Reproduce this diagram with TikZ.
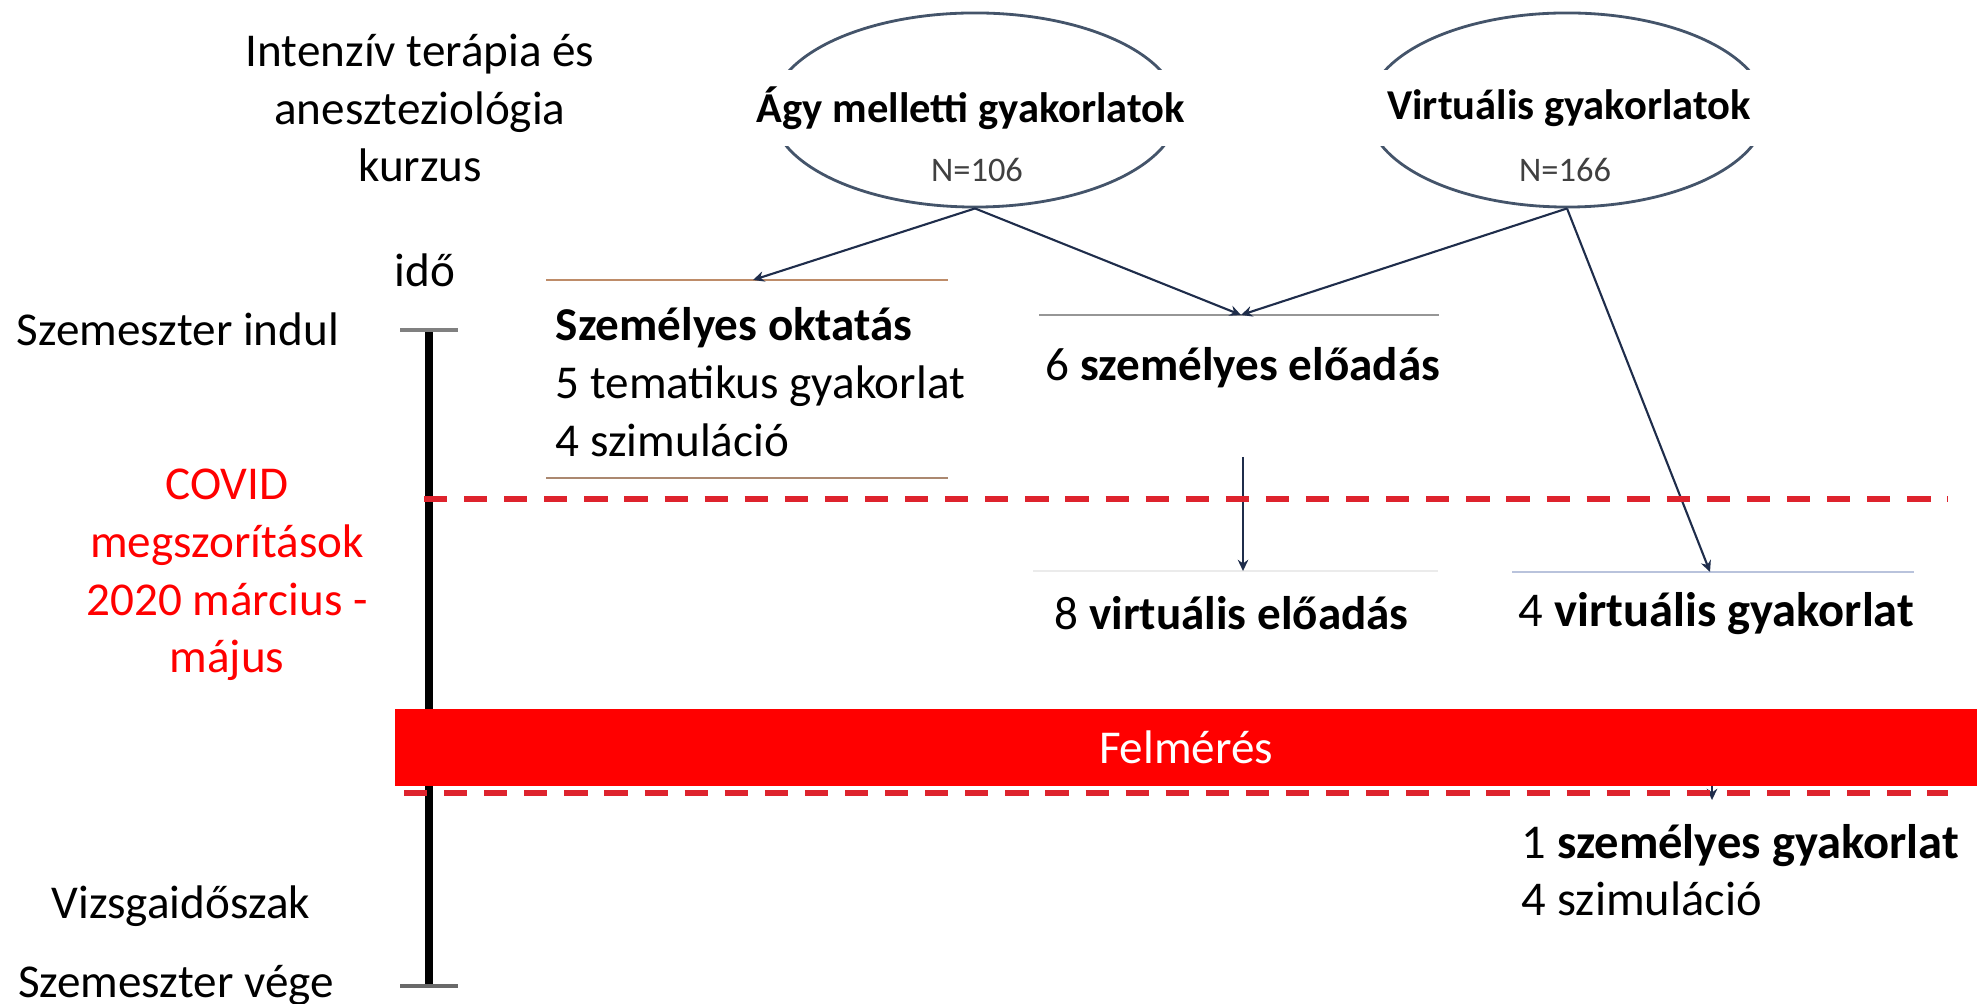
\documentclass[tikz,border=0pt]{standalone}
\usepackage[svgnames]{xcolor}
\usepackage{fontspec}
\setmainfont{Carlito}
\usetikzlibrary{arrows.meta, shapes.geometric}

\definecolor{EllBlue}{RGB}{68,84,106}
\definecolor{ArrBlue}{RGB}{31,45,75}
\definecolor{RuleBrown}{RGB}{190,140,105}
\definecolor{RuleGray}{RGB}{150,150,150}
\definecolor{RuleLight}{RGB}{185,195,220}
\definecolor{DashRed}{RGB}{222,35,45}

\tikzset{
  txt/.style={inner sep=0pt, font=\fontsize{13.4}{16.4}\selectfont},
  bigtxt/.style={inner sep=0pt, font=\fontsize{13.8}{16.4}\selectfont},
  ell/.style={ellipse, draw=EllBlue, line width=0.8pt, inner sep=0pt},
  elltitle/.style={fill=white, inner sep=0pt, minimum width=4.5cm, minimum height=0.75cm, font=\fontsize{12.1}{14}\selectfont\bfseries},
  count/.style={inner sep=0pt, text=black!75, font=\fontsize{9.8}{11}\selectfont},
  arr/.style={ArrBlue, line width=0.6pt, -{Stealth[length=3.2pt, width=3pt]}},
  covidline/.style={DashRed, line width=1.7pt, dash pattern=on 6.6pt off 4.8pt},
}

\begin{document}
\begin{tikzpicture}[x=0.01cm, y=-0.01cm]
    \useasboundingbox (0,0) rectangle (1977,1004);
    % left column
    \node[txt, align=center] (kurzus) at (420,108) {Intenzív terápia és\\aneszteziológia\\kurzus};
    \node[txt] (ido) at (425,270) {idő};
    \node[txt] (indul) at (178,329) {Szemeszter indul};
    \node[txt, align=center, text=red] (covid) at (227,575) {COVID\\megszorítások\\2020 március -\\május};
    \node[txt] (vizsga) at (181,906) {Vizsgaidőszak};
    \node[txt] (vege) at (176,985) {Szemeszter vége};
    % time axis
    \draw[line width=2pt] (429,330) -- (429,986);
    \draw[Gray, line width=1.1pt] (400,330) -- (458,330);
    \draw[DimGray, line width=1.1pt] (400,986) -- (458,986);
    % groups
    \node[ell, minimum width=4.06cm, minimum height=1.94cm] (agy) at (975,110) {};
    \node[elltitle] (agytitle) at (971,108) {Ágy melletti gyakorlatok};
    \node[count] (agyn) at (977,170) {N=106};
    \node[ell, minimum width=3.98cm, minimum height=1.94cm] (virt) at (1567,110) {};
    \node[elltitle] (virttitle) at (1569,108) {Virtuális gyakorlatok};
    \node[count] (virtn) at (1565,170) {N=166};
    % blocks
    \draw[RuleBrown, line width=0.7pt] (546,280) -- (948,280);
    \draw[RuleBrown!70!gray, line width=0.7pt] (546,478) -- (948,478);
    \draw[RuleGray, line width=0.8pt] (1039,315) -- (1439,315);
    \draw[black!8, line width=0.5pt] (1033,571) -- (1438,571);
    \draw[RuleLight, line width=0.5pt] (1512,572) -- (1914,572);
    \node[txt, align=left, anchor=west] (okt) at (555,382) {\textbf{Személyes oktatás}\\5 tematikus gyakorlat\\4 szimuláció};
    \node[txt, anchor=west] (elo6) at (1045,368) {6 \textbf{személyes előadás}};
    \node[txt, anchor=west] (elo8) at (1054,613) {8 \textbf{virtuális előadás}};
    \node[bigtxt, anchor=west] (gyak4) at (1518,614) {4 \textbf{virtuális gyakorlat}};
    \node[bigtxt, align=left, anchor=west] (gyak1) at (1521,870) {1 \textbf{személyes gyakorlat}\\4 szimuláció};
    % arrows
    \coordinate (oktin) at (753,280);
    \coordinate (eloin) at (1241,315);
    \coordinate (elo8out) at (1243,457);
    \coordinate (elo8in) at (1243,571);
    \coordinate (gyak4in) at (1710,572);
    \coordinate (gyak1in) at (1712,800);
    \draw[arr] (agy.south) -- (oktin);
    \draw[arr] (agy.south) -- (eloin);
    \draw[arr] (virt.south) -- (eloin);
    \draw[arr] (virt.south) -- (gyak4in);
    \draw[arr] (elo8out) -- (elo8in);
    \draw[arr] (gyak1in |- 0,780) -- (gyak1in);
    % covid period
    \draw[covidline] (424,499) -- (1948,499);
    \draw[covidline] (404,793) -- (1948,793);
    \node[txt, fill=red, text=white, minimum width=15.82cm, minimum height=0.77cm] (felmeres) at (1186,747.5) {Felmérés};
\end{tikzpicture}
\end{document}
